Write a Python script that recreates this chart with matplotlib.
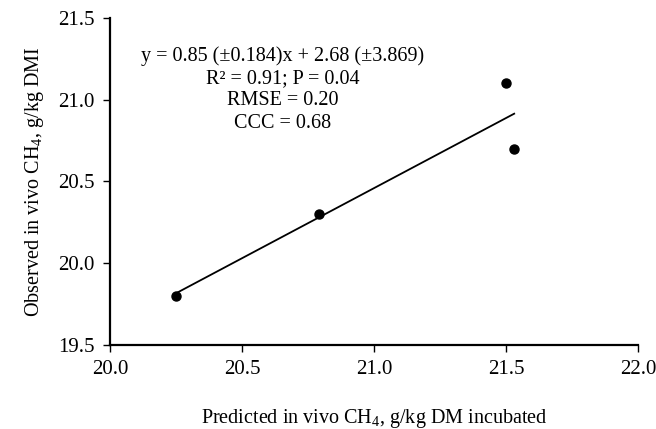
import numpy as np
import matplotlib
matplotlib.use("Agg")
import matplotlib.pyplot as plt

plt.rcParams['font.family'] = ['Liberation Serif', 'DejaVu Serif']
plt.rcParams['mathtext.fontset'] = 'custom'
plt.rcParams['mathtext.rm'] = 'Liberation Serif'

# predicted vs observed CH4
predicted = [20.25, 20.79, 21.50, 21.53]
observed  = [19.80, 20.30, 21.10, 20.70]

stats_lines = ["y = 0.85 (\u00b10.184)x + 2.68 (\u00b13.869)",
               "R\u00b2 = 0.91; P = 0.04",
               "RMSE = 0.20",
               "CCC = 0.68"]

fig = plt.figure(figsize=(6.56, 4.29), dpi=100)
ax = fig.add_axes([0.168, 0.196, 0.805, 0.762])

# regression line over the range of the data
slope, intercept = np.polyfit(predicted, observed, 1)
xl = np.array([min(predicted), max(predicted)])
ax.plot(xl, slope * xl + intercept, color='black', lw=1.3, zorder=2)
ax.plot(predicted, observed, 'o', color='black', markersize=6.5, zorder=3)

ax.set_xlim(20.0, 22.0)
ax.set_ylim(19.5, 21.5)
ax.set_xticks([20.0, 20.5, 21.0, 21.5, 22.0])
ax.set_yticks([19.5, 20.0, 20.5, 21.0, 21.5])
ax.xaxis.set_major_formatter(matplotlib.ticker.FormatStrFormatter('%.1f'))
ax.yaxis.set_major_formatter(matplotlib.ticker.FormatStrFormatter('%.1f'))

for s in ['top', 'right']:
    ax.spines[s].set_visible(False)
for s in ['left', 'bottom']:
    ax.spines[s].set_linewidth(1.6)
ax.tick_params(direction='out', length=5, width=1.0, labelsize=15, pad=6)

ax.set_xlabel("Predicted in vivo CH$_4$, g/kg DM incubated", fontsize=14.5, labelpad=20)
ax.set_ylabel("Observed in vivo CH$_4$, g/kg DMI", fontsize=14.5, labelpad=9)

ax.text(0.327, 0.915, "\n".join(stats_lines), transform=ax.transAxes,
        ha='center', va='top', fontsize=14.5, linespacing=1.24)

fig.savefig("out.png", dpi=100, facecolor="white")
